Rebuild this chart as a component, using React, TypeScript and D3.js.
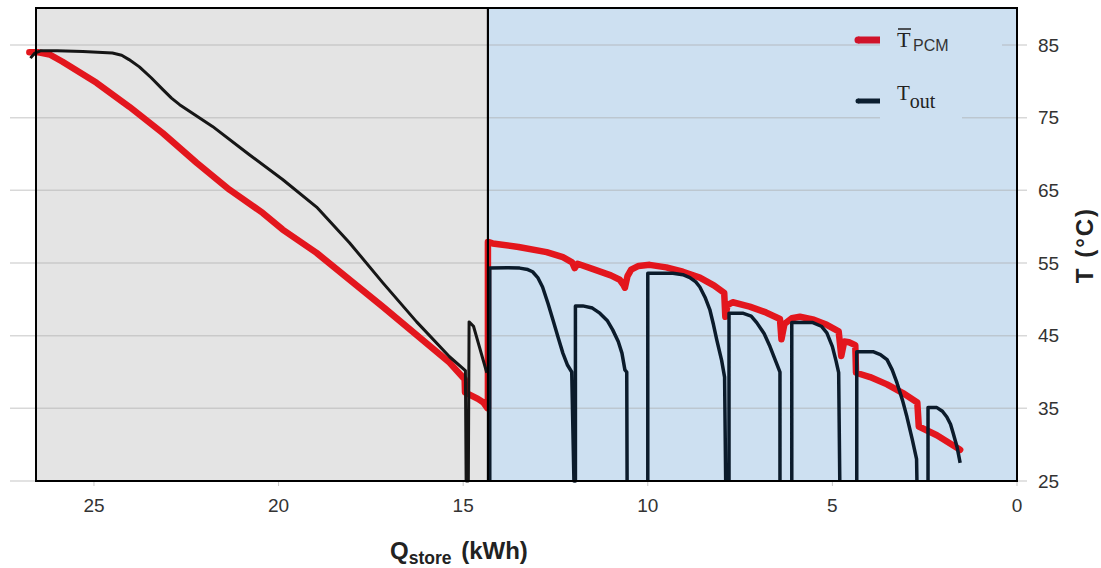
import React from "react";
import * as d3 from "d3";

const xTicks = [25, 20, 15, 10, 5, 0];
const yTicks = [25, 35, 45, 55, 65, 75, 85];
const zoneBoundary = 14.33;
const qMax = 26.57;

type Pt = [number, number] | null; // null = pen up (line hidden along the bottom border)

// T_PCM (mean PCM temperature)
const tPcmGray: Pt[] = [
  [26.75, 84.0], [26.5, 84.0], [26.2, 83.7], [25.85, 82.7], [24.93, 79.8], [24.04, 76.5],
  [23.14, 72.9], [22.22, 68.8], [21.33, 65.1], [20.43, 61.9], [19.89, 59.6], [18.97, 56.4],
  [17.18, 49.0], [15.37, 41.3], [14.96, 39.0], [14.95, 37.2], [14.6, 36.3], [14.45, 35.8],
  [14.34, 35.0],
];
const tPcmBlue: Pt[] = [
  [14.33, 35.0], [14.33, 57.9], [14.2, 57.7], [13.5, 57.2], [12.74, 56.5], [12.3, 55.8],
  [12.05, 55.1], [11.98, 54.3], [11.9, 54.9], [11.5, 54.2], [11.0, 53.3], [10.76, 52.7],
  [10.66, 52.0], [10.62, 51.6], [10.55, 53.2], [10.45, 54.1], [10.25, 54.6], [9.95, 54.75],
  [9.5, 54.4], [9.05, 53.8], [8.59, 53.0], [8.2, 51.9], [7.93, 50.9], [7.9, 47.6],
  [7.84, 49.2], [7.7, 49.6], [7.24, 49.0], [6.8, 48.2], [6.42, 47.3], [6.38, 44.5],
  [6.3, 46.6], [6.1, 47.4], [5.88, 47.6], [5.5, 47.2], [5.15, 46.5], [4.83, 45.6],
  [4.76, 42.2], [4.68, 44.2], [4.55, 44.1], [4.38, 43.7], [4.36, 39.9], [3.98, 39.3],
  [3.52, 38.3], [3.09, 37.1], [2.7, 35.8], [2.66, 32.5], [2.17, 31.3], [1.54, 29.3],
];

// T_out (outlet temperature)
const tOutGray: Pt[] = [
  [26.72, 83.2], [26.6, 83.9], [26.45, 84.2], [26.0, 84.2], [25.3, 84.1], [24.5, 83.9],
  [24.25, 83.6], [24.05, 83.0], [23.77, 82.0], [23.45, 80.5], [23.14, 78.9], [22.9, 77.7],
  [22.68, 76.8], [21.79, 73.8], [20.79, 69.9], [19.89, 66.5], [18.97, 62.7], [18.08, 57.8],
  [17.18, 52.3], [16.26, 46.9], [15.37, 42.1], [14.94, 40.2], [14.92, 25], [14.86, 25],
  [14.84, 46.9], [14.72, 46.3], [14.36, 39.9],
];
const tOutBlue: Pt[] = [
  [14.28, 25], [14.28, 54.3], [13.8, 54.35], [13.47, 54.3], [13.25, 54.1], [13.12, 53.8],
  [12.98, 53.0], [12.85, 51.7], [12.7, 49.4], [12.57, 47.2], [12.42, 44.6], [12.3, 42.6],
  [12.18, 41.0], [12.06, 40.0], [12.0, 25], [11.96, 25], [11.96, 49.1], [11.76, 49.1],
  [11.5, 48.8], [11.3, 48.1], [11.1, 47.1], [10.95, 45.8], [10.8, 44.2], [10.7, 42.6],
  [10.62, 40.3], [10.57, 40.0], [10.56, 25], null, [10.0, 25], [10.0, 53.6], [9.32, 53.6],
  [9.05, 53.4], [8.86, 53.0], [8.7, 52.4], [8.59, 51.7], [8.45, 50.3], [8.32, 48.6],
  [8.22, 46.5], [8.13, 44.4], [8.0, 41.6], [7.92, 39.3], [7.89, 25], null, [7.8, 25],
  [7.8, 48.1], [7.43, 48.1], [7.2, 47.7], [7.05, 46.8], [6.85, 45.3], [6.69, 43.5],
  [6.52, 41.3], [6.42, 40.0], [6.42, 25], null, [6.1, 25], [6.1, 46.8], [5.53, 46.8],
  [5.3, 46.3], [5.15, 45.4], [5.0, 43.5], [4.9, 41.5], [4.83, 39.9], [4.8, 25], null,
  [4.34, 25], [4.34, 42.8], [3.9, 42.8], [3.7, 42.4], [3.52, 41.7], [3.38, 40.3],
  [3.25, 38.5], [3.1, 36.1], [2.98, 33.8], [2.84, 30.8], [2.72, 28.0], [2.71, 25], null,
  [2.41, 25], [2.41, 35.1], [2.17, 35.1], [2.02, 34.6], [1.9, 33.8], [1.8, 32.8],
  [1.73, 31.6], [1.62, 29.6], [1.54, 27.5],
];

const GRAY_BG = "#e4e4e4";
const BLUE_BG = "#cde0f1";
const RED = "#e3161d";
const SANS = "'Liberation Sans', Arial, sans-serif";
const SERIF = "'Liberation Serif', 'Times New Roman', serif";

export default function App() {
  const x = d3.scaleLinear().domain([qMax, 0]).range([36, 1017]);
  const y = d3.scaleLinear().domain([25, 90.1]).range([481, 8]);
  const line = d3
    .line<Pt>()
    .defined((d) => d != null)
    .x((d) => x((d as [number, number])[0]))
    .y((d) => y((d as [number, number])[1]));

  const top = y(90.1);
  const bottom = y(25);
  const left = x(qMax);
  const right = x(0);
  const mid = x(zoneBoundary);

  return (
    <svg width={1101} height={568} style={{ position: "absolute", left: 0, top: 0, background: "#fff" }}>
      {/* zone backgrounds */}
      <rect x={left} y={top} width={mid - left} height={bottom - top} fill={GRAY_BG} />
      <rect x={mid} y={top} width={right - mid} height={bottom - top} fill={BLUE_BG} />

      {/* horizontal grid */}
      {yTicks.map((t) => (
        <line key={t} x1={10} x2={1027} y1={y(t)} y2={y(t)} stroke="#a8a8a8" strokeOpacity={0.45} strokeWidth={1.5} />
      ))}
      {/* x tick marks */}
      {xTicks.map((t) => (
        <line key={t} x1={x(t)} x2={x(t)} y1={bottom} y2={bottom + 5} stroke="#c8c8c8" strokeWidth={1} />
      ))}

      {/* legend text backgrounds */}
      <rect x={880} y={22} width={122} height={36} fill={BLUE_BG} />
      <rect x={880} y={84} width={82} height={36} fill={BLUE_BG} />

      {/* data */}
      <path d={line([...tPcmGray, ...tPcmBlue]) || ""} fill="none" stroke={RED} strokeWidth={6.5} strokeLinejoin="round" strokeLinecap="round" />
      <path d={line(tOutGray) || ""} fill="none" stroke="#161616" strokeWidth={3} strokeLinejoin="round" strokeLinecap="butt" />
      <path d={line(tOutBlue) || ""} fill="none" stroke="#0b1b2b" strokeWidth={3.5} strokeLinejoin="round" strokeLinecap="butt" />

      {/* zone borders */}
      <rect x={left} y={top} width={mid - left} height={bottom - top} fill="none" stroke="#000" strokeWidth={2} />
      <rect x={mid} y={top} width={right - mid} height={bottom - top} fill="none" stroke="#000" strokeWidth={2} />

      {/* y tick labels */}
      {yTicks.map((t) => (
        <text key={t} x={1038} y={y(t)} dy="0.35em" fontFamily={SANS} fontSize={19} fill="#333">
          {t}
        </text>
      ))}
      {/* x tick labels */}
      {xTicks.map((t) => (
        <text key={t} x={x(t)} y={512} textAnchor="middle" fontFamily={SANS} fontSize={19} fill="#333">
          {t}
        </text>
      ))}

      {/* axis titles */}
      <text x={390} y={559} fontFamily={SANS} fontWeight="bold" fontSize={24} fill="#222">
        Q<tspan fontSize={17.5} dy={5}>store</tspan>
        <tspan dy={-5} dx={3}> (kWh)</tspan>
      </text>
      <text transform="translate(1093,245) rotate(-90)" textAnchor="middle" fontFamily={SANS} fontWeight="bold" fontSize={24} letterSpacing={2} fill="#222">
        T (°C)
      </text>

      {/* legend */}
      <line x1={858} x2={880} y1={40} y2={40} stroke="#d0132a" strokeWidth={7} />
      <circle cx={858} cy={40} r={3.5} fill="#d0132a" />
      <text x={897} y={47} fontFamily={SERIF} fontSize={22} fill="#222">T</text>
      <line x1={898} x2={911} y1={29} y2={29} stroke="#222" strokeWidth={1.5} />
      <text x={913} y={51} fontFamily={SANS} fontSize={16} fill="#333">PCM</text>

      <line x1={858} x2={880} y1={101} y2={101} stroke="#0c1f30" strokeWidth={5} />
      <circle cx={858} cy={101} r={2.5} fill="#0c1f30" />
      <text x={897} y={100} fontFamily={SERIF} fontSize={21} fill="#222">
        T<tspan fontSize={20} dy={8}>out</tspan>
      </text>
    </svg>
  );
}
